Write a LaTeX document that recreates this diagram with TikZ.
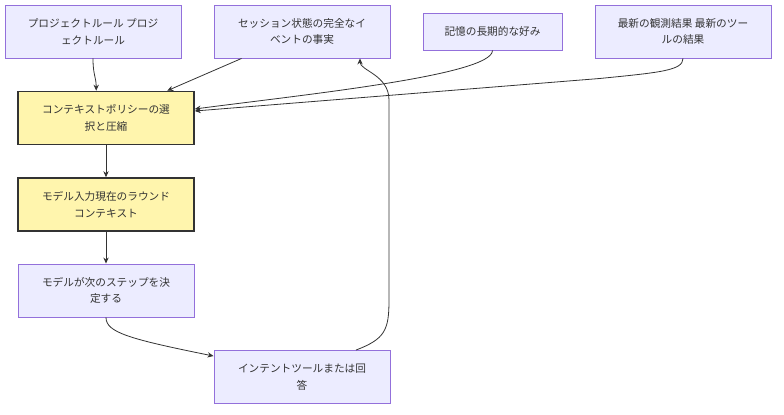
\documentclass[tikz,border=0pt]{standalone}
\usepackage{fontspec}
\setmainfont{Noto Sans CJK JP}
\usetikzlibrary{arrows.meta,calc}
\definecolor{lavfill}{HTML}{ECECFF}
\definecolor{lavline}{HTML}{9370DB}
\definecolor{yelfill}{HTML}{FFF5AD}
\definecolor{ink}{HTML}{333333}
\begin{document}
\begin{tikzpicture}[x=0.75pt,y=-0.75pt,
  box/.style={draw=lavline,fill=lavfill,line width=0.7pt,minimum width=132pt,minimum height=39.75pt,inner sep=0pt,align=center,text=ink,font=\fontsize{8}{12.5}\selectfont},
  ybox/.style={box,draw=ink,fill=yelfill,line width=1.2pt},
  arr/.style={draw=ink,line width=0.6pt,-{Stealth[length=4.5pt,width=4pt]}}]
\useasboundingbox (0,0) rectangle (784,414);
\node[box] (proj) at (93,31.5) {プロジェクトルール プロジ\\ェクトルール};
\node[box] (sess) at (302,31.5) {セッション状態の完全なイ\\ベントの事実};
\node[box,minimum width=104.25pt,minimum height=27.75pt] (mem) at (492.5,31.5) {記憶の長期的な好み};
\node[box] (obs) at (683,31.5) {最新の観測結果 最新のツー\\ルの結果};
\node[ybox] (policy) at (106,118) {コンテキストポリシーの選\\択と圧縮};
\node[ybox] (input) at (106,204.5) {モデル入力現在のラウンド\\コンテキスト};
\node[box] (decide) at (106,290.5) {モデルが次のステップを決\\定する};
\node[box] (intent) at (302,377) {インテントツールまたは回\\答};
\draw[arr] (proj.south) .. controls +(0,17) and +(0,-14) .. ($(policy.north west)+(79,0)$);
\draw[arr] ($(sess.south west)+(28,0)$) -- ($(policy.north west)+(150,0)$);
\draw[arr] (mem.south) .. controls +(0,25) and +(106,-14) .. ($(policy.east)+(0,-9)$);
\draw[arr] (obs.south) .. controls +(0,12) and +(60,-6) .. ($(obs.south)+(-83,20)$) -- ($(policy.east)+(0,-7)$);
\draw[arr] (policy.south) -- (input.north);
\draw[arr] (input.south) -- (decide.north);
\draw[arr] (decide.south) .. controls +(0,15) and +(-84,-17) .. ($(intent.north west)+(0,6)$);
\draw[arr] ($(intent.north)+(54,0)$) .. controls +(29,-11) and +(0,30) .. (389,300) -- (389,100) .. controls +(0,-25) and +(0,12) .. ($(sess.south)+(58,0)$);
\end{tikzpicture}
\end{document}
